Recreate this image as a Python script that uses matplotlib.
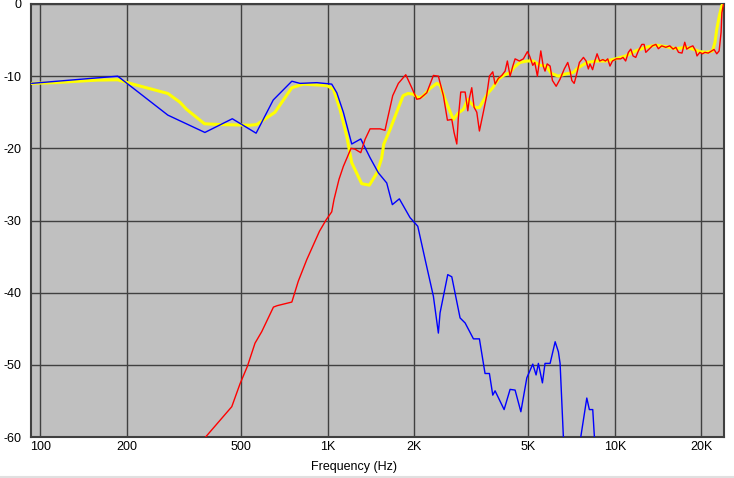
import numpy as np
import matplotlib.pyplot as plt
from matplotlib.lines import Line2D

# blue curve (woofer)
blue_f = [93, 186, 278, 374, 466, 564, 647, 751, 802, 917, 1034, 1077, 1135, 1214,
          1305, 1406, 1503, 1607, 1681, 1778, 1937, 2061, 2186, 2336, 2431, 2464,
          2621, 2707, 2893, 3013, 3220, 3378, 3534, 3660, 3760, 3830, 4118, 4320,
          4497, 4710, 4940, 5182, 5321, 5420, 5598, 5716, 5954, 6200, 6363, 6450,
          6622, 6800, 7400, 7613, 7990, 8155, 8380, 8492, 8700]
blue_db = [-11.0, -10.0, -15.4, -17.8, -15.9, -17.9, -13.3, -10.7, -11.0, -10.9,
           -11.1, -12.3, -15.0, -19.4, -18.7, -21.3, -23.4, -24.8, -27.8, -27.0,
           -29.6, -30.8, -35.4, -40.5, -45.6, -42.8, -37.5, -37.8, -43.5, -44.2,
           -46.4, -46.4, -51.2, -51.2, -54.2, -53.6, -56.2, -53.4, -53.5, -56.5,
           -51.8, -49.9, -51.4, -49.8, -52.5, -49.8, -49.8, -46.8, -48.2, -49.8,
           -60.0, -66.0, -66.0, -60.0, -54.6, -56.2, -56.2, -60.0, -66.0]

# red curve (tweeter)
red_f = [340, 380, 464, 496, 526, 559, 590, 648, 668, 751, 791, 847, 937, 989,
         1034, 1053, 1096, 1135, 1207, 1244, 1305, 1351, 1406, 1524, 1585, 1607,
         1686, 1764, 1872, 1964, 2045, 2100, 2215, 2336, 2431, 2531, 2614, 2707,
         2757, 2818, 2854, 2909, 3013, 3078, 3119, 3177, 3236, 3308, 3378, 3486,
         3581, 3660, 3760, 3830, 3932, 4042, 4150, 4227, 4320, 4416, 4497, 4655,
         4806, 4963, 5050, 5182, 5265, 5377, 5526, 5634, 5716, 5817, 5954, 6066,
         6250, 6450, 6670, 6858, 6990, 7086, 7220, 7338, 7530, 7778, 7945, 8090,
         8195, 8370, 8520, 8677, 8860, 9090, 9280, 9450, 9620, 9814, 10120, 10480,
         10680, 10910, 11150, 11370, 11580, 11830, 12080, 12420, 12650, 12820,
         13170, 13520, 13900, 14180, 14570, 15050, 15540, 15960, 16320, 16670,
         17140, 17520, 17800, 18200, 18700, 19130, 19330, 19770, 20200, 20600,
         21150, 21750, 22160, 22650, 23080, 23450, 23600, 23900]
red_db = [-62.0, -59.8, -55.8, -52.6, -50.2, -47.0, -45.4, -42.0, -41.8, -41.3,
          -38.4, -35.4, -31.5, -29.9, -28.8, -27.1, -24.3, -22.5, -20.0, -20.1,
          -20.6, -18.75, -17.3, -17.3, -17.5, -16.4, -12.7, -11.0, -9.8, -11.6,
          -13.2, -13.1, -12.3, -9.9, -10.0, -12.7, -16.1, -16.0, -17.8, -19.4,
          -15.7, -12.2, -12.2, -14.8, -13.0, -11.6, -14.3, -15.0, -17.6, -15.0,
          -12.7, -10.0, -9.4, -11.1, -10.3, -9.9, -9.3, -7.9, -10.0, -8.6,
          -7.6, -7.9, -7.6, -6.6, -7.2, -8.5, -8.1, -10.0, -6.5, -8.6,
          -9.3, -8.3, -8.6, -10.6, -11.4, -10.4, -9.0, -8.1, -9.3, -10.6,
          -11.0, -10.0, -8.1, -7.4, -7.9, -9.0, -8.3, -9.1, -7.9, -6.9,
          -7.9, -7.7, -7.9, -7.6, -8.6, -7.9, -7.6, -7.6, -7.4, -7.9,
          -6.7, -6.25, -7.2, -7.4, -6.5, -5.6, -5.6, -6.7, -6.25, -5.8,
          -5.6, -6.2, -5.8, -6.0, -5.8, -6.25, -6.0, -6.7, -6.8, -5.3,
          -6.25, -6.0, -5.8, -6.5, -7.2, -6.7, -6.9, -6.7, -6.8, -6.5,
          -6.3, -6.9, -6.5, -3.9, -1.2, 0.0]

# yellow curve (sum)
yel_f = [93, 111, 157, 186, 201, 278, 306, 323, 373, 422, 537, 567, 656, 751,
         823, 994, 1048, 1105, 1166, 1214, 1315, 1398, 1486, 1542, 1570, 1650,
         1740, 1833, 1905, 1990, 2066, 2143, 2275, 2400, 2464, 2565, 2676, 2741,
         2854, 2970, 3078, 3140, 3270, 3378, 3486, 3626, 3760, 3932, 4100, 4320,
         4455, 4676, 4940, 5200, 5500, 5777, 6000, 6360, 6730, 7160, 7480, 8010,
         8640, 9330, 10070, 10910, 11830, 12820, 13900, 15050, 16320, 17700,
         18700, 19770, 20900, 21900, 22330, 22650, 23130, 23600, 23900]
yel_db = [-11.0, -10.9, -10.55, -10.5, -10.9, -12.4, -13.6, -14.6, -16.6, -16.7,
          -16.8, -16.7, -15.0, -11.6, -11.1, -11.3, -11.8, -14.6, -18.3, -22.0,
          -24.9, -25.1, -23.4, -21.4, -19.4, -17.4, -15.0, -12.7, -12.4, -12.5,
          -13.0, -12.8, -11.7, -11.0, -11.25, -13.2, -15.0, -16.0, -15.1, -14.6,
          -13.2, -13.65, -14.35, -14.35, -13.4, -12.3, -11.6, -10.4, -9.9, -9.5,
          -8.8, -8.1, -7.9, -7.9, -8.5, -8.6, -9.6, -10.0, -9.7, -9.5,
          -8.8, -8.1, -7.9, -7.9, -7.6, -7.2, -6.5, -6.0, -5.7, -5.9,
          -6.2, -6.0, -6.25, -6.6, -6.7, -6.5, -5.3, -3.5, -1.6, -0.2, 0.0]

xticks = [100, 200, 500, 1000, 2000, 5000, 10000, 20000]
xlabels = ['100', '200', '500', '1K', '2K', '5K', '10K', '20K']
yticks = [0, -10, -20, -30, -40, -50, -60]
ylabels = ['0', '-10', '-20', '-30', '-40', '-50', '-60']

plt.rcParams['font.family'] = ['Liberation Sans', 'DejaVu Sans']

fig = plt.figure(figsize=(7.34, 4.78), dpi=100)
ax = fig.add_axes([31/734, 1 - 437/478, (724 - 31)/734, (437 - 4)/478])
ax.set_facecolor('#C0C0C0')

ax.plot(yel_f, yel_db, color='#FFFF00', lw=2.2, zorder=3)
ax.plot(blue_f, blue_db, color='#0000FF', lw=1.0, zorder=4)
ax.plot(red_f, red_db, color='#FF0000', lw=1.0, zorder=5)

ax.set_xscale('log')
ax.set_xlim(92.8, 24000)
ax.set_ylim(-60, 0)
ax.set_xticks(xticks)
ax.set_xticklabels(xlabels)
ax.xaxis.set_minor_locator(plt.NullLocator())
ax.set_yticks(yticks)
ax.set_yticklabels(ylabels)
ax.tick_params(length=0, labelsize=9, colors='black')
ax.tick_params(axis='y', pad=7)
ax.tick_params(axis='x', pad=3)
ax.grid(True, color='#404040', lw=1)
ax.set_axisbelow(True)
for s in ax.spines.values():
    s.set_color('#404040')
    s.set_linewidth(1.5)

fig.text(354/734, 1 - 467/478, 'Frequency (Hz)', ha='center', va='center', fontsize=9)
fig.add_artist(Line2D([0, 1], [1 - 477/478, 1 - 477/478], color='#E0E0E0', lw=1.5,
                      transform=fig.transFigure))

fig.savefig('out.png', dpi=100)
